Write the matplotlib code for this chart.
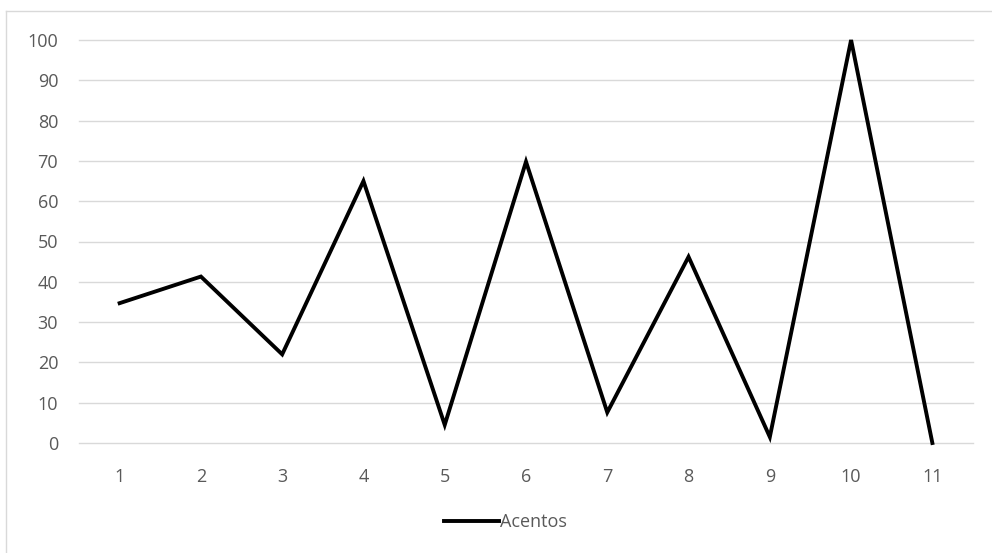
import matplotlib
matplotlib.use('Agg')
import matplotlib.pyplot as plt
from matplotlib.lines import Line2D

# Datos
categorias = [1, 2, 3, 4, 5, 6, 7, 8, 9, 10, 11]
acentos = [34.7, 41.3, 22.0, 65.0, 4.5, 69.8, 7.6, 46.2, 1.5, 100, 0]
y_ticks = list(range(0, 101, 10))

W, H = 992, 553
fig = plt.figure(figsize=(W / 100, H / 100), dpi=100)
fig.patch.set_facecolor('white')

# Marco del grafico (estilo Excel)
gris_borde = '#d9d9d9'
fig.add_artist(Line2D([6 / W, 6 / W], [0, 1 - 11 / H], color=gris_borde, lw=1))
fig.add_artist(Line2D([6 / W, 1], [1 - 11 / H, 1 - 11 / H], color=gris_borde, lw=1))

ax = fig.add_axes([79 / W, 1 - 443 / H, (973 - 79) / W, (443 - 40) / H])
ax.plot(categorias, acentos, color='black', lw=2.8, solid_joinstyle='miter', label='Acentos', clip_on=False)

ax.set_xlim(0.5, 11.5)
ax.set_ylim(0, 100)
ax.set_yticks(y_ticks)
ax.set_xticks(categorias)
ax.grid(axis='y', color='#d9d9d9', lw=1)
for gl in ax.get_ygridlines():
    gl.set_clip_on(False)
ax.set_axisbelow(True)
for s in ax.spines.values():
    s.set_visible(False)
ax.tick_params(length=0, colors='#595959', labelsize=13)
ax.tick_params(axis='x', pad=18)
ax.tick_params(axis='y', pad=15)
for lbl in ax.get_xticklabels() + ax.get_yticklabels():
    lbl.set_fontfamily('Open Sans')

leg = fig.legend(loc='center', bbox_to_anchor=(0.51, 1 - 522 / H), frameon=False,
                 handlelength=3.0, handletextpad=0.1,
                 prop={'family': 'Open Sans', 'size': 13})
for t in leg.get_texts():
    t.set_color('#595959')

fig.savefig('out.png', dpi=100)
